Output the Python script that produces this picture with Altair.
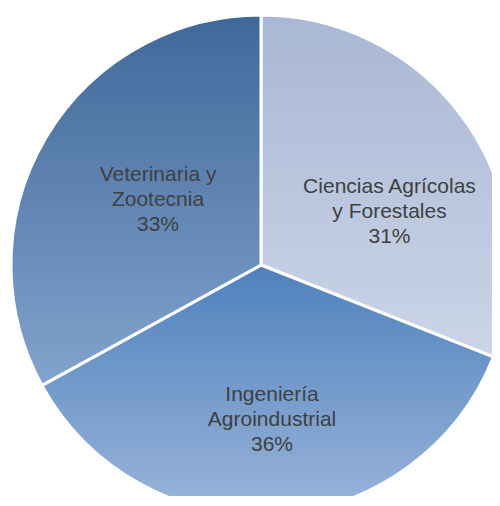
import altair as alt
import pandas as pd

categories = ["Ciencias Agrícolas\ny Forestales", "Ingeniería\nAgroindustrial", "Veterinaria y\nZootecnia"]
values = [31, 36, 33]
order = [0, 1, 2]

df = pd.DataFrame({"category": categories, "value": values, "order": order})

gradients = [
    ("#a8b7d5", "#ccd5e7"),
    ("#4f81bd", "#9ab5da"),
    ("#3f6899", "#82a3cd"),
]
label_radius = [139.4, 153.4, 122.3]
label_dx = [13.2, 1.4, 2.3]
label_dy = [-0.1, -23.1, -27.7]

W, H = 484, 488
CX, CY = 253, 257

theta_scale = alt.Scale(domain=[0, 100], range=[0, 6.283185307179586], zero=False, nice=False)

base = alt.Chart(df).transform_window(
    cum="sum(value)", sort=[alt.SortField("order")], frame=[None, 0]
).transform_calculate(
    start="datum.cum - datum.value",
    mid="datum.cum - datum.value / 2",
    label="datum.category + '\\n' + datum.value + '%'",
)

layers = []
for i in range(len(categories)):
    top, bottom = gradients[i]
    sub = base.transform_filter(alt.datum.order == order[i])
    arc = sub.mark_arc(
        radius=250,
        stroke="white",
        strokeWidth=3,
        clip=True,
        fill=alt.Gradient(
            gradient="linear",
            x1=0, x2=0, y1=0, y2=1,
            stops=[alt.GradientStop(color=top, offset=0), alt.GradientStop(color=bottom, offset=1)],
        ),
    ).encode(
        theta=alt.Theta("start:Q", scale=theta_scale),
        theta2="cum:Q",
        x=alt.value(CX),
        y=alt.value(CY),
    )
    layers.append(arc)

for i in range(len(categories)):
    sub = base.transform_filter(alt.datum.order == order[i])
    txt = sub.mark_text(
        font="Liberation Sans",
        fontSize=21,
        lineHeight=25,
        color="#404040",
        lineBreak="\n",
        align="center",
        baseline="middle",
        dx=label_dx[i],
        dy=label_dy[i],
    ).encode(
        theta=alt.Theta("mid:Q", scale=theta_scale),
        radius=alt.value(label_radius[i]),
        text="label:N",
        x=alt.value(CX),
        y=alt.value(CY),
    )
    layers.append(txt)

chart = alt.layer(*layers).properties(
    width=W, height=H, padding=0, autosize=alt.AutoSizeParams(type="none")
).configure_view(stroke=None)

chart.save("out.html", embed_options={"renderer": "svg", "actions": False})
